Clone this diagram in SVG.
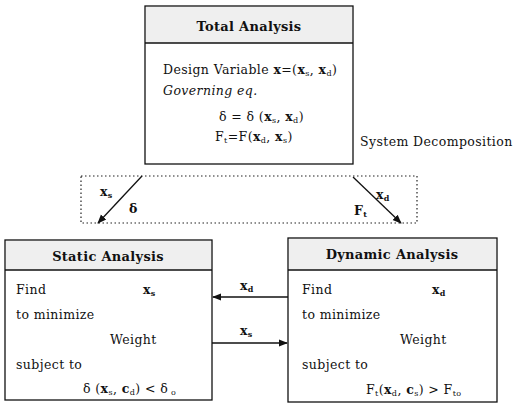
<svg xmlns="http://www.w3.org/2000/svg" width="514" height="405" viewBox="0 0 514 405">
<defs>
<style>
text{font-family:"DejaVu Serif","Liberation Serif",serif;fill:#111;}
.t{font-size:13px;font-weight:bold;text-anchor:middle;letter-spacing:0.3px;}
.b{font-size:12.5px;letter-spacing:0.4px;}
.bo{font-weight:bold;}
.s{font-size:8px;}
.box{fill:#fff;stroke:#111;stroke-width:1.3;}
.hd{fill:#efefef;stroke:none;}
.ln{stroke:#111;stroke-width:1.3;fill:none;}
.dot{stroke:#222;stroke-width:1.2;fill:none;stroke-dasharray:1.5 2.5;}
</style>
<marker id="ah" viewBox="0 0 10 10" refX="9" refY="5" markerWidth="7" markerHeight="7" orient="auto">
<path d="M0,1 L10,5 L0,9 z" fill="#111"/>
</marker>
</defs>
<rect width="514" height="405" fill="#fff"/>

<g id="total">
<rect class="box" x="145" y="6" width="208" height="158"/>
<rect class="hd" x="146" y="7" width="206" height="36"/>
<line class="ln" x1="145" y1="43" x2="353" y2="43"/>
<text class="t" x="249" y="31">Total Analysis</text>
<text class="b" x="163" y="74">Design Variable <tspan class="bo">x</tspan>=(<tspan class="bo">x</tspan><tspan class="s" dy="2">s</tspan><tspan dy="-2">, </tspan><tspan class="bo">x</tspan><tspan class="s" dy="2">d</tspan><tspan dy="-2">)</tspan></text>
<text class="b" x="163" y="95" font-style="italic">Governing eq.</text>
<text class="b" x="219" y="121">δ = δ (<tspan class="bo">x</tspan><tspan class="s" dy="2">s</tspan><tspan dy="-2">, </tspan><tspan class="bo">x</tspan><tspan class="s" dy="2">d</tspan><tspan dy="-2">)</tspan></text>
<text class="b" x="215" y="141">F<tspan class="s" dy="2">t</tspan><tspan dy="-2">=F(</tspan><tspan class="bo">x</tspan><tspan class="s" dy="2">d</tspan><tspan dy="-2">, </tspan><tspan class="bo">x</tspan><tspan class="s" dy="2">s</tspan><tspan dy="-2">)</tspan></text>
</g>

<g id="decomp">
<rect class="dot" x="81" y="176" width="336" height="47"/>
<text class="b" x="360" y="146">System Decomposition</text>
</g>

<g id="static">
<rect class="box" x="5" y="240" width="207" height="160"/>
<rect class="hd" x="6" y="241" width="205" height="29"/>
<line class="ln" x1="5" y1="270" x2="212" y2="270"/>
<text class="t" x="108" y="261">Static Analysis</text>
<text class="b" x="16" y="294">Find</text>
<text class="b bo" x="143" y="294">x<tspan class="s" dy="2">s</tspan></text>
<text class="b" x="16" y="319">to minimize</text>
<text class="b" x="110" y="344">Weight</text>
<text class="b" x="16" y="369">subject to</text>
<text class="b" x="83" y="393">δ (<tspan class="bo">x</tspan><tspan class="s" dy="2">s</tspan><tspan dy="-2">, </tspan><tspan class="bo">c</tspan><tspan class="s" dy="2">d</tspan><tspan dy="-2">) &lt; δ</tspan><tspan class="s" dy="2"> o</tspan></text>
</g>

<g id="dynamic">
<rect class="box" x="288" y="238" width="209" height="164"/>
<rect class="hd" x="289" y="239" width="207" height="31"/>
<line class="ln" x1="288" y1="270" x2="497" y2="270"/>
<text class="t" x="392" y="259">Dynamic Analysis</text>
<text class="b" x="302" y="294">Find</text>
<text class="b bo" x="432" y="294">x<tspan class="s" dy="2">d</tspan></text>
<text class="b" x="302" y="319">to minimize</text>
<text class="b" x="400" y="344">Weight</text>
<text class="b" x="302" y="369">subject to</text>
<text class="b" x="366" y="394">F<tspan class="s" dy="2">t</tspan><tspan dy="-2">(</tspan><tspan class="bo">x</tspan><tspan class="s" dy="2">d</tspan><tspan dy="-2">, </tspan><tspan class="bo">c</tspan><tspan class="s" dy="2">s</tspan><tspan dy="-2">) &gt; F</tspan><tspan class="s" dy="2">to</tspan></text>
</g>

<g id="connectors">
<line class="ln" x1="142" y1="176" x2="98" y2="223" marker-end="url(#ah)"/>
<line class="ln" x1="353" y1="177" x2="401" y2="223" marker-end="url(#ah)"/>
<line class="ln" x1="288" y1="297" x2="213" y2="297" marker-end="url(#ah)"/>
<line class="ln" x1="212" y1="343" x2="287" y2="343" marker-end="url(#ah)"/>
<text class="b bo" x="100" y="196">x<tspan class="s" dy="2">s</tspan></text>
<text class="b bo" x="129" y="213">δ</text>
<text class="b bo" x="376" y="199">x<tspan class="s" dy="2">d</tspan></text>
<text class="b bo" x="354" y="215">F<tspan class="s" dy="2">t</tspan></text>
<text class="b bo" x="240" y="290">x<tspan class="s" dy="2">d</tspan></text>
<text class="b bo" x="240" y="335">x<tspan class="s" dy="2">s</tspan></text>
</g>
</svg>
